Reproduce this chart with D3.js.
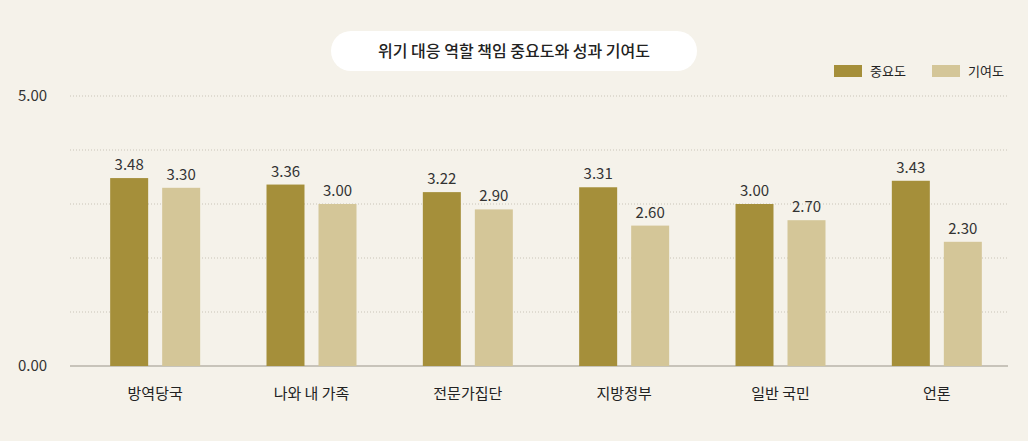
<!DOCTYPE html>
<html><head><meta charset="utf-8">
<script src="https://cdn.jsdelivr.net/npm/d3@7"></script>
<style>body{margin:0;background:#f5f2ea;}svg{display:block;font-family:"Noto Sans CJK KR","Noto Sans",sans-serif;}</style>
</head><body><svg id="c" width="1028" height="441"></svg>
<script>
const categories=["방역당국","나와 내 가족","전문가집단","지방정부","일반 국민","언론"];
const importance=[3.48,3.36,3.22,3.31,3.00,3.43];
const contribution=[3.30,3.00,2.90,2.60,2.70,2.30];
const seriesNames=["중요도","기여도"];
const colors=["#a58f3a","#d4c698"];
const yTicks=[0,1,2,3,4,5];

const svg=d3.select("#c");
svg.append("rect").attr("width",1028).attr("height",441).attr("fill","#f5f2ea");
const L=70,R=1008,T=96,B=366;
const x=d3.scaleBand().domain(categories).range([L+7,R+7]);
const y=d3.scaleLinear().domain([0,5]).range([B,T]);
yTicks.slice(1).forEach(t=>{
  svg.append("line").attr("x1",L).attr("x2",R).attr("y1",y(t)).attr("y2",y(t))
   .attr("stroke","#c9c4b8").attr("stroke-dasharray","1,2");
});
svg.append("line").attr("x1",L).attr("x2",R).attr("y1",B).attr("y2",B).attr("stroke","#9a958a");
[0,5].forEach(t=>svg.append("text").attr("x",18).attr("y",y(t)+5).attr("font-size",15).attr("fill","#333").text(t.toFixed(2)));
const bw=38,gap=14;
[importance,contribution].forEach((vals,si)=>{
  categories.forEach((c,i)=>{
    const cx=x(c)+x.bandwidth()/2;
    const bx=si===0?cx-gap/2-bw:cx+gap/2;
    svg.append("rect").attr("x",bx).attr("y",y(vals[i])).attr("width",bw).attr("height",B-y(vals[i])).attr("fill",colors[si]);
    svg.append("text").attr("x",bx+bw/2).attr("y",y(vals[i])-8).attr("text-anchor","middle").attr("font-size",15).attr("fill","#333").text(vals[i].toFixed(2));
  });
});
categories.forEach(c=>svg.append("text").attr("x",x(c)+x.bandwidth()/2).attr("y",399).attr("text-anchor","middle").attr("font-size",15).attr("fill","#222").text(c));
svg.append("rect").attr("x",331).attr("y",31).attr("width",366).attr("height",40).attr("rx",20).attr("fill","#fff");
svg.append("text").attr("x",514).attr("y",57).attr("text-anchor","middle").attr("font-size",16).attr("font-weight",500).attr("fill","#222").text("위기 대응 역할 책임 중요도와 성과 기여도");
const lx=[834,932];
seriesNames.forEach((n,i)=>{
  svg.append("rect").attr("x",lx[i]).attr("y",65).attr("width",28).attr("height",12).attr("fill",colors[i]);
  svg.append("text").attr("x",lx[i]+36).attr("y",76).attr("font-size",13).attr("fill","#222").text(n);
});
</script></body></html>
